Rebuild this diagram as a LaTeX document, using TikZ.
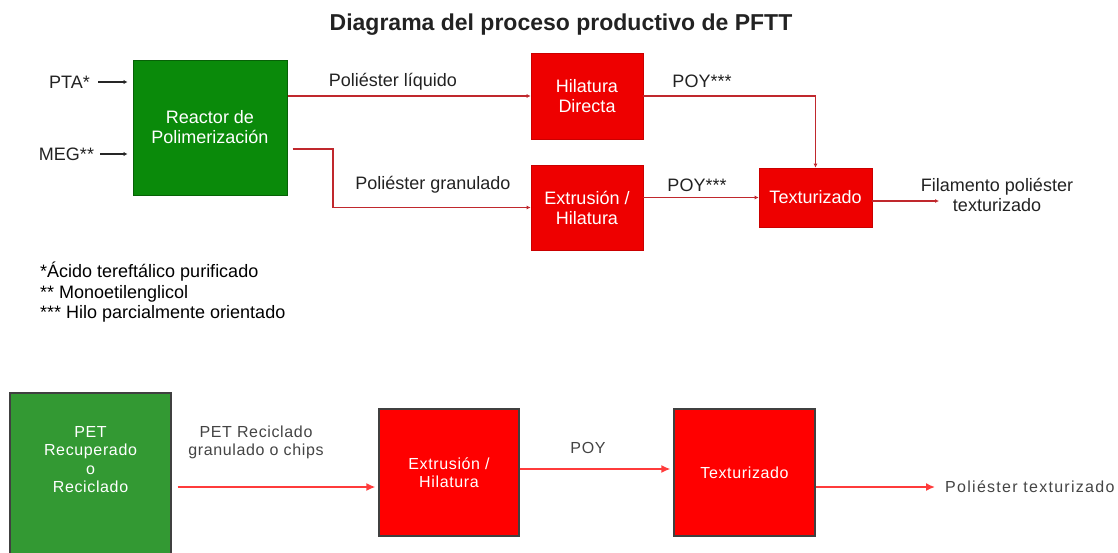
\documentclass[tikz,border=0pt]{standalone}
\usepackage{fontspec}
\setmainfont{Liberation Sans}
\usetikzlibrary{arrows.meta}

\definecolor{boxred}{HTML}{EE0000}
\definecolor{lowred}{HTML}{FF0000}
\definecolor{topgreen}{HTML}{0A8A0A}
\definecolor{lowgreen}{HTML}{339933}
\definecolor{linered}{HTML}{C0282D}
\definecolor{arrowred}{HTML}{FF3B3B}
\definecolor{labelgray}{HTML}{222222}
\definecolor{lowgray}{HTML}{444444}

\newcommand{\topfont}{\fontsize{18}{20}\selectfont}
\newcommand{\lowfont}{\fontsize{16}{18.5}\selectfont\addfontfeatures{LetterSpace=4}}

\tikzset{
  stagebox/.style={fill=boxred, draw=boxred!85!black, line width=0.6pt, text=white,
    align=center, font=\topfont, inner sep=0pt},
  reactorbox/.style={fill=topgreen, draw=topgreen!70!black, line width=1pt, text=white,
    align=center, font=\topfont, inner sep=0pt},
  lowbox/.style={fill=lowred, draw=black!75, line width=1.2pt, text=white,
    align=center, font=\lowfont, inner sep=0pt},
  toplabel/.style={text=labelgray, font=\topfont, align=center, inner sep=0pt},
  lowlabel/.style={text=lowgray, font=\lowfont, align=center, inner sep=0pt},
  topflow/.style={draw=linered, line width=1.3pt, -{Latex[length=4pt,width=4pt]}},
  feedarrow/.style={draw=black!85, line width=1.8pt, -{Latex[length=4pt,width=4.5pt]}},
  lowflow/.style={draw=arrowred, line width=1.6pt, -{Latex[length=9pt,width=8pt]}}
}

\begin{document}
\begin{tikzpicture}[x=1pt,y=1pt]
      \useasboundingbox (0,0) rectangle (1118,-552);
      \node[font=\fontsize{23}{26}\selectfont\bfseries, text=labelgray] (title) at (561,-25) {Diagrama del proceso productivo de PFTT};
      % upper line: virgin raw material
      \node[reactorbox, minimum width=154pt, minimum height=135pt] (reactor) at (210,-127.5) {Reactor de\\Polimerizaci\'on};
      \node[stagebox, minimum width=112pt, minimum height=86pt] (hil) at (587,-96) {Hilatura\\Directa};
      \node[stagebox, minimum width=112pt, minimum height=85pt] (ext) at (587,-207.5) {Extrusi\'on /\\Hilatura};
      \node[stagebox, minimum width=113pt, minimum height=59pt] (tex) at (815.5,-197.5) {Texturizado};
      \node[toplabel] (pta) at (69.5,-82) {PTA*};
      \node[toplabel] (meg) at (66.5,-154) {MEG**};
      \draw[feedarrow, shorten <=8pt, shorten >=5pt] (pta.east) -- (reactor.west |- pta.east);
      \draw[feedarrow, shorten <=6pt, shorten >=5pt] (meg.east) -- (reactor.west |- meg.east);
      % between reactor and spinning
      \node[toplabel] (liq) at (393,-82) {Poli\'ester l\'iquido};
      \node[toplabel] (gran) at (433,-185) {Poli\'ester granulado};
      \coordinate (bend) at (333,-149);
      \draw[topflow] (reactor.east |- hil.west) -- (hil.west);
      \draw[topflow] ([xshift=5pt]reactor.east |- bend) -- (bend) |- (ext.west);
      % into texturizing
      \node[toplabel] (poyup) at (702,-81) {POY***};
      \node[toplabel] (poymid) at (697,-185) {POY***};
      \draw[topflow] (hil.east) -| (tex.north);
      \draw[topflow] (ext.east |- tex.west) -- (tex.west);
      % output
      \coordinate (outup) at (939,-201);
      \node[toplabel] (fil) at (997,-194.5) {Filamento poli\'ester\\texturizado};
      \draw[topflow, line width=2.2pt] (tex.east |- outup) -- (outup);
      % notes
      \node[toplabel, anchor=west, align=left, text=black, font=\fontsize{18}{20.5}\selectfont] (notes) at (40,-292.5)
        {*\'Acido teref\-t\'alico purificado\\** Monoetilenglicol\\*** Hilo parcialmente orientado};
      % lower line: recycled PET
      \node[fill=lowgreen, draw=black!75, line width=1.2pt, minimum width=161pt, minimum height=207pt, inner sep=0pt] (pet) at (90.5,-496.5) {};
      \node[lowlabel, text=white] (pettext) at (90.5,-459.5) {PET\\Recuperado\\o\\Reciclado};
      \node[lowbox, minimum width=140pt, minimum height=127pt] (ext2) at (449,-472.5) {Extrusi\'on /\\Hilatura};
      \node[lowbox, minimum width=141pt, minimum height=127pt] (tex2) at (744.5,-472.5) {Texturizado};
      \node[lowlabel] (chips) at (256,-442.5) {PET Reciclado\\granulado o chips};
      \node[lowlabel] (poy) at (588,-448) {POY};
      \node[lowlabel, anchor=west, font=\fontsize{16}{18.5}\selectfont\addfontfeatures{LetterSpace=8}] (final) at (945,-487) {Poli\'ester texturizado};
      \draw[lowflow, shorten <=6pt, shorten >=3pt] (pet.east |- final) -- (ext2.west |- final);
      \draw[lowflow, shorten >=3pt] ([yshift=3.5pt]ext2.east) -- ([yshift=3.5pt]tex2.west);
      \draw[lowflow, shorten >=10pt] (tex2.east |- final) -- (final.west);
\end{tikzpicture}
\end{document}
